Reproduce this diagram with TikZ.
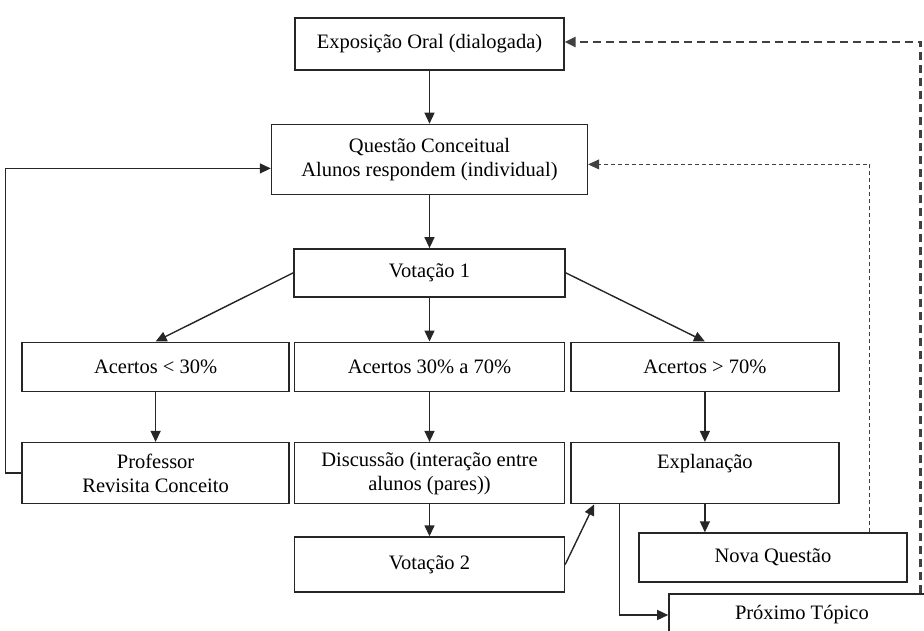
\documentclass[tikz,border=0pt]{standalone}
\usepackage{fontspec}
\setmainfont{Liberation Serif}
\usetikzlibrary{arrows.meta,positioning}

\begin{document}
\begin{tikzpicture}[x=1pt,y=1pt,
        box/.style={draw=black!85,line width=1.4pt,inner sep=0pt,align=center,
                font=\fontsize{20.5}{24}\selectfont},
        arr/.style={-{Triangle[length=11pt,width=10pt]},line width=1.4pt,draw=black!85},
        back/.style={-{Triangle[length=11pt,width=10pt]},line width=2.4pt,draw=black!75,
                dash pattern=on 8pt off 5pt},
        again/.style={-{Triangle[length=11pt,width=10pt]},line width=0.8pt,draw=black!75,
                dash pattern=on 4pt off 3pt}]
        \useasboundingbox (0,0) rectangle (924,-630);
        \clip (0,0) rectangle (924,-630);

        \node[box,minimum width=269pt,minimum height=52pt] (oral) at (429.5,-44) {Exposição Oral (dialogada)};
        \node[box,minimum width=316pt,minimum height=70pt] (questao) [below=53pt of oral] {Questão Conceitual\\Alunos respondem (individual)};
        \node[box,minimum width=271pt,minimum height=48pt] (votacao 1) [below=53pt of questao] {Votação 1};
        \node[box,minimum width=270pt,minimum height=49pt] (acertos 2) [below=44pt of votacao 1] {Acertos 30\% a 70\%};
        \node[box,minimum width=267pt,minimum height=49pt] (acertos 1) [left=4pt of acertos 2] {Acertos < 30\%};
        \node[box,minimum width=268pt,minimum height=49pt] (acertos 3) [right=5pt of acertos 2] {Acertos > 70\%};
        \node[box,minimum width=267pt,minimum height=61pt] (professor) [below=50pt of acertos 1] {Professor\\Revisita Conceito};
        \node[box,minimum width=270pt,minimum height=61pt] (discussao) [below=50pt of acertos 2] {Discussão (interação entre\\alunos (pares))};
        \node[box,minimum width=268pt,minimum height=61pt] (explanacao) [below=50pt of acertos 3] {Explanação\\~};
        \node[box,minimum width=270pt,minimum height=55pt] (votacao 2) [below=32pt of discussao] {Votação 2};
        \node[box,minimum width=268pt,minimum height=49pt,anchor=north west] (nova) at ([shift={(68,-28)}]explanacao.south west) {Nova Questão};
        \node[box,minimum width=266pt,minimum height=46pt,text depth=10pt,anchor=north west] (proximo) at ([shift={(98,-89)}]explanacao.south west) {Próximo Tópico};

        \draw[arr] (oral) -- (questao);
        \draw[arr] (questao) -- (votacao 1);
        \draw[arr] (votacao 1.west) -- (acertos 1.north);
        \draw[arr] (votacao 1) -- (acertos 2);
        \draw[arr] (votacao 1.east) -- (acertos 3.north);
        \draw[arr] (acertos 1) -- (professor);
        \draw[arr] (acertos 2) -- (discussao);
        \draw[arr] (acertos 3) -- (explanacao);
        \draw[arr] (discussao) -- (votacao 2);
        \draw[arr] (votacao 2.east) -- ([xshift=24pt]explanacao.south west);
        \draw[arr] (explanacao.south) -- (explanacao.south |- nova.north);
        \draw[arr] ([xshift=49pt]explanacao.south west) |- ([yshift=2pt]proximo.west);
        \draw[arr] (professor.west) -- ++(-16,0) |- ([yshift=-9pt]questao.west);

        % retornos
        \draw[again] ([xshift=-38pt]nova.north east) |- ([yshift=-5pt]questao.east);
        \draw[back] ([xshift=-15pt]proximo.north east) |- ([yshift=2pt]oral.east);
\end{tikzpicture}
\end{document}
